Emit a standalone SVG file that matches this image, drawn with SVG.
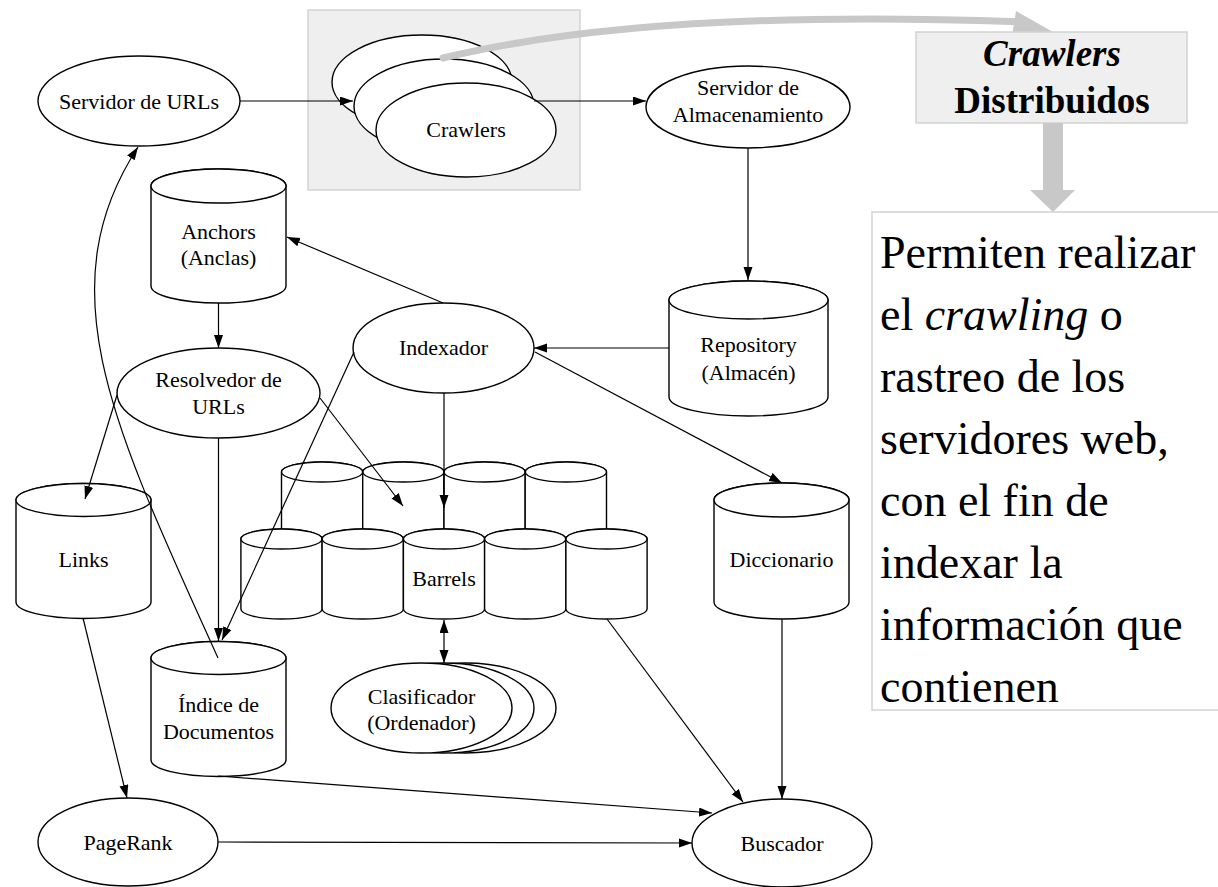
<svg xmlns="http://www.w3.org/2000/svg" width="1218" height="887" viewBox="0 0 1218 887">
  <style>
    .shape { fill: #ffffff; stroke: #000000; stroke-width: 1.4; }
    .lbl { font-family: "Liberation Serif", "Times New Roman", serif; font-size: 22px; fill: #000000; text-anchor: middle; }
    .edge { fill: none; stroke: #000000; stroke-width: 1.2; marker-end: url(#arrow); }
    .panel { fill: #efefef; stroke: #d2d2d2; stroke-width: 1.5; }
    .note { font-family: "Liberation Serif", "Times New Roman", serif; font-size: 46px; fill: #000000; }
    .title { font-family: "Liberation Serif", "Times New Roman", serif; font-size: 37px; font-weight: bold; fill: #000000; text-anchor: middle; }
  </style>
  <defs>
    <marker id="arrow" markerUnits="userSpaceOnUse" markerWidth="14" markerHeight="10" refX="13" refY="4.5" orient="auto-start-reverse">
      <path d="M0,0 L13,4.5 L0,9 Z" fill="#000000"/>
    </marker>
  </defs>

  <rect width="1218" height="887" fill="#ffffff"/>

  <!-- shaded frame around the crawler pool -->
  <rect id="crawler-pool" class="panel" x="308" y="10" width="272" height="180"/>

  <g id="servidor-urls">
    <ellipse class="shape" cx="139" cy="101" rx="101" ry="45"/>
    <text class="lbl" x="139" y="109">Servidor de URLs</text>
  </g>

  <g id="crawlers">
    <ellipse class="shape" cx="422" cy="82" rx="90" ry="47"/>
    <ellipse class="shape" cx="444" cy="106" rx="90" ry="47"/>
    <ellipse class="shape" cx="466" cy="130" rx="90" ry="47"/>
    <text class="lbl" x="466" y="137">Crawlers</text>
  </g>

  <g id="servidor-almacenamiento">
    <ellipse class="shape" cx="748" cy="107" rx="102" ry="41"/>
    <text class="lbl" x="748" y="95">Servidor de</text>
    <text class="lbl" x="748" y="122">Almacenamiento</text>
  </g>

  <g id="anchors">
    <path class="shape" d="M151,186 L151,286 A67.5,17 0 0 0 286,286 L286,186 A67.5,17 0 0 0 151,186 Z"/>
    <ellipse class="shape" cx="218.5" cy="186" rx="67.5" ry="17"/>
    <text class="lbl" x="218.5" y="239">Anchors</text>
    <text class="lbl" x="218.5" y="265">(Anclas)</text>
  </g>

  <g id="repository">
    <path class="shape" d="M669,300 L669,397 A79.5,19 0 0 0 828,397 L828,300 A79.5,19 0 0 0 669,300 Z"/>
    <ellipse class="shape" cx="748.5" cy="300" rx="79.5" ry="19"/>
    <text class="lbl" x="748.5" y="352">Repository</text>
    <text class="lbl" x="748.5" y="380">(Almacén)</text>
  </g>

  <g id="indexador">
    <ellipse class="shape" cx="443.5" cy="348" rx="90.5" ry="45"/>
    <text class="lbl" x="443.5" y="355">Indexador</text>
  </g>

  <g id="resolvedor">
    <ellipse class="shape" cx="218.5" cy="393" rx="101.5" ry="45"/>
    <text class="lbl" x="218.5" y="387">Resolvedor de</text>
    <text class="lbl" x="218.5" y="414">URLs</text>
  </g>

  <g id="links">
    <path class="shape" d="M16,500 L16,602 A67.5,16.5 0 0 0 151,602 L151,500 A67.5,16.5 0 0 0 16,500 Z"/>
    <ellipse class="shape" cx="83.5" cy="500" rx="67.5" ry="16.5"/>
    <text class="lbl" x="83.5" y="567">Links</text>
  </g>

  <g id="diccionario">
    <path class="shape" d="M714,500 L714,602 A67.5,17 0 0 0 849,602 L849,500 A67.5,17 0 0 0 714,500 Z"/>
    <ellipse class="shape" cx="781.5" cy="500" rx="67.5" ry="17"/>
    <text class="lbl" x="781.5" y="567">Diccionario</text>
  </g>

  <g id="barrels">
    <!-- back row -->
    <path class="shape" d="M281.5,472 L281.5,539 A40.6,10 0 0 0 362.7,539 L362.7,472 A40.6,10 0 0 0 281.5,472 Z"/>
    <ellipse class="shape" cx="322.1" cy="472" rx="40.6" ry="10"/>
    <path class="shape" d="M362.7,472 L362.7,539 A40.6,10 0 0 0 444,539 L444,472 A40.6,10 0 0 0 362.7,472 Z"/>
    <ellipse class="shape" cx="403.4" cy="472" rx="40.6" ry="10"/>
    <path class="shape" d="M444,472 L444,539 A40.6,10 0 0 0 525.2,539 L525.2,472 A40.6,10 0 0 0 444,472 Z"/>
    <ellipse class="shape" cx="484.6" cy="472" rx="40.6" ry="10"/>
    <path class="shape" d="M525.2,472 L525.2,539 A40.6,10 0 0 0 606.5,539 L606.5,472 A40.6,10 0 0 0 525.2,472 Z"/>
    <ellipse class="shape" cx="565.9" cy="472" rx="40.6" ry="10"/>
    <!-- front row -->
    <path class="shape" d="M240.9,539 L240.9,609 A40.6,10 0 0 0 322.1,609 L322.1,539 A40.6,10 0 0 0 240.9,539 Z"/>
    <ellipse class="shape" cx="281.5" cy="539" rx="40.6" ry="10"/>
    <path class="shape" d="M322.1,539 L322.1,609 A40.6,10 0 0 0 403.4,609 L403.4,539 A40.6,10 0 0 0 322.1,539 Z"/>
    <ellipse class="shape" cx="362.7" cy="539" rx="40.6" ry="10"/>
    <path class="shape" d="M403.4,539 L403.4,609 A40.6,10 0 0 0 484.6,609 L484.6,539 A40.6,10 0 0 0 403.4,539 Z"/>
    <ellipse class="shape" cx="444" cy="539" rx="40.6" ry="10"/>
    <path class="shape" d="M484.6,539 L484.6,609 A40.6,10 0 0 0 565.9,609 L565.9,539 A40.6,10 0 0 0 484.6,539 Z"/>
    <ellipse class="shape" cx="525.2" cy="539" rx="40.6" ry="10"/>
    <path class="shape" d="M565.9,539 L565.9,609 A40.6,10 0 0 0 647.1,609 L647.1,539 A40.6,10 0 0 0 565.9,539 Z"/>
    <ellipse class="shape" cx="606.5" cy="539" rx="40.6" ry="10"/>
    <text class="lbl" x="444" y="586">Barrels</text>
  </g>

  <g id="clasificador">
    <ellipse class="shape" cx="465.5" cy="708" rx="90.5" ry="45"/>
    <ellipse class="shape" cx="443.5" cy="708" rx="90.5" ry="45"/>
    <ellipse class="shape" cx="421.5" cy="708" rx="90.5" ry="45"/>
    <text class="lbl" x="421.5" y="704">Clasificador</text>
    <text class="lbl" x="421.5" y="730">(Ordenador)</text>
  </g>

  <g id="indice">
    <path class="shape" d="M151,658 L151,760 A67.5,16.5 0 0 0 286,760 L286,658 A67.5,16.5 0 0 0 151,658 Z"/>
    <ellipse class="shape" cx="218.5" cy="658" rx="67.5" ry="16.5"/>
    <text class="lbl" x="218.5" y="712">Índice de</text>
    <text class="lbl" x="218.5" y="739">Documentos</text>
  </g>

  <g id="pagerank">
    <ellipse class="shape" cx="128" cy="842" rx="90" ry="44"/>
    <text class="lbl" x="128" y="850">PageRank</text>
  </g>

  <g id="buscador">
    <ellipse class="shape" cx="782" cy="843" rx="90" ry="44"/>
    <text class="lbl" x="782" y="851">Buscador</text>
  </g>

  <g id="connectors">
    <path class="edge" d="M240,101 L353,101"/>
    <path class="edge" d="M534,101 L646,101"/>
    <path class="edge" d="M748,148 L748,280"/>
    <path class="edge" d="M669,348 L534,348"/>
    <path class="edge" d="M443,303 L287,237"/>
    <path class="edge" d="M218.5,303 L218.5,348"/>
    <path class="edge" d="M117,395 L85,499"/>
    <path class="edge" d="M320,398 L403,506"/>
    <path class="edge" d="M218.5,438 L218.5,641"/>
    <path class="edge" d="M354,352 L222,640"/>
    <path class="edge" d="M535,352 L782,483"/>
    <path class="edge" d="M444,393 L444,508"/>
    <path class="edge" style="marker-start: url(#arrow)" d="M444,620 L444,663"/>
    <path class="edge" d="M607,619 L743,802"/>
    <path class="edge" d="M782,619 L782,799"/>
    <path class="edge" d="M218,776 L712,813"/>
    <path class="edge" d="M218,842 L692,843"/>
    <path class="edge" d="M83,618 L127,798"/>
    <path class="edge" d="M218,658 C115,430 45,290 138,147"/>
  </g>

  <!-- callout: pointer from the crawler pool to its title -->
  <g id="callout-pointer">
    <path d="M443,58 Q650,8 1025,22" fill="none" stroke="#c8c8c8" stroke-width="7" stroke-linecap="round"/>
    <polygon points="1016,11 1053,32 1012,36" fill="#c8c8c8"/>
  </g>

  <g id="callout-title">
    <rect class="panel" x="916" y="32" width="271" height="91"/>
    <text class="title" x="1052" y="66"><tspan font-style="italic">Crawlers</tspan></text>
    <text class="title" x="1052" y="113">Distribuidos</text>
  </g>

  <g id="callout-arrow">
    <polygon points="1043,123 1063,123 1063,190 1075,190 1053,212 1030,190 1043,190" fill="#c8c8c8"/>
  </g>

  <g id="callout-text">
    <rect x="872" y="212" width="360" height="498" fill="#ffffff" stroke="#d2d2d2" stroke-width="1.5"/>
    <text class="note" x="880" y="268">Permiten realizar</text>
    <text class="note" x="880" y="330">el <tspan font-style="italic">crawling</tspan> o</text>
    <text class="note" x="880" y="392">rastreo de los</text>
    <text class="note" x="880" y="454">servidores web,</text>
    <text class="note" x="880" y="516">con el fin de</text>
    <text class="note" x="880" y="578">indexar la</text>
    <text class="note" x="880" y="640">información que</text>
    <text class="note" x="880" y="702">contienen</text>
  </g>
</svg>
